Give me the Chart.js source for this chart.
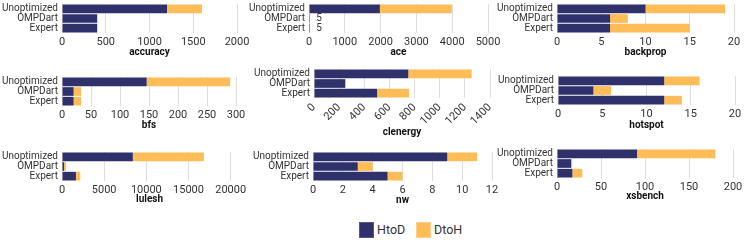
<!DOCTYPE html>
<html>
<head>
<meta charset="utf-8">
<script src="https://cdn.jsdelivr.net/npm/chart.js@4.4.0/dist/chart.umd.min.js"></script>
<style>
  html, body { margin: 0; padding: 0; background: #fff; }
  #wrap { position: relative; width: 747px; height: 240px; overflow: hidden; font-family: Roboto, sans-serif; }
  #wrap canvas { position: absolute; }
  .swatch { position: absolute; top: 222px; width: 13px; height: 14px; }
  .legtext { position: absolute; top: 221px; font-size: 12.5px; line-height: 17px; color: #333; }
</style>
</head>
<body>
<div id="wrap">
  <div class="swatch" style="left:359px;background:#2f316b;border:1px solid #55578a"></div>
  <span class="legtext" style="left:377px">HtoD</span>
  <div class="swatch" style="left:416px;background:#ffbc57;border:1px solid #ffd08a"></div>
  <span class="legtext" style="left:434px">DtoH</span>
</div>
<script>
// categories and benchmarks
const categories = ['Unoptimized', 'OMPDart', 'Expert'];
const benchmarks = ['accuracy', 'ace', 'backprop', 'bfs', 'clenergy', 'hotspot', 'lulesh', 'nw', 'xsbench'];

// transfer counts per benchmark: [Unoptimized, OMPDart, Expert]
const accuracyHtoD = [1200, 400, 400];
const accuracyDtoH = [400, 8, 8];
const aceHtoD = [1980, 3, 3];
const aceDtoH = [2010, 2, 2];
const backpropHtoD = [10, 6, 6];
const backpropDtoH = [9, 2, 9];
const bfsHtoD = [146, 20, 20];
const bfsDtoH = [144, 13, 13];
const clenergyHtoD = [750, 248, 502];
const clenergyDtoH = [504, 5, 254];
const hotspotHtoD = [12, 4, 12];
const hotspotDtoH = [4, 2, 2];
const luleshHtoD = [8400, 240, 1650];
const luleshDtoH = [8430, 230, 510];
const nwHtoD = [9, 3, 5];
const nwDtoH = [2, 1, 1];
const xsbenchHtoD = [91, 16, 17.5];
const xsbenchDtoH = [89, 1.2, 11.3];

const htodSeries = [accuracyHtoD, aceHtoD, backpropHtoD, bfsHtoD, clenergyHtoD, hotspotHtoD, luleshHtoD, nwHtoD, xsbenchHtoD];
const dtohSeries = [accuracyDtoH, aceDtoH, backpropDtoH, bfsDtoH, clenergyDtoH, hotspotDtoH, luleshDtoH, nwDtoH, xsbenchDtoH];

// x axis ticks
const axisMax = [2000, 5000, 20, 300, 1400, 20, 20750, 12, 200];
const tickStep = [500, 1000, 5, 50, 200, 5, 5000, 2, 50];

const HTOD_COLOR = '#2f316b';
const DTOH_COLOR = '#ffbc57';
const Y_AXIS_W = 62;
const PAD_TOP = 12;
const PAD_RIGHT = 26;

// plot boxes: left, right, top, bottom, title offset below plot
const boxes = [
  [62, 237, 4, 33, 19],
  [309, 488, 4, 33, 19],
  [557, 734, 4, 33, 19],
  [62, 236, 77, 106, 19],
  [314, 490, 69, 98, 34],
  [558, 735, 76, 105, 20],
  [62, 237, 152, 181, 18],
  [313, 492, 152, 181, 19],
  [557, 733, 149, 178, 18]
];

// tiny stacks get their total written next to them
const smallTotals = {
  id: 'smallTotals',
  afterDatasetsDraw(chart) {
    const ctx = chart.ctx;
    const meta = chart.getDatasetMeta(1);
    ctx.save();
    ctx.font = '10px Roboto, sans-serif';
    ctx.fillStyle = '#333';
    ctx.textBaseline = 'middle';
    meta.data.forEach((bar, i) => {
      if (bar.x - chart.chartArea.left < 2) {
        const total = chart.data.datasets.reduce((s, d) => s + d.data[i], 0);
        ctx.fillText(String(total), bar.x + 7, bar.y);
      }
    });
    ctx.restore();
  }
};

const wrap = document.getElementById('wrap');

benchmarks.forEach((name, k) => {
  const [L, R, T, B, titleOff] = boxes[k];
  const titleLH = 12;
  const axisH = titleOff + titleLH / 2;
  const w = Y_AXIS_W + (R - L) + PAD_RIGHT;
  const h = PAD_TOP + (B - T) + axisH;

  const canvas = document.createElement('canvas');
  canvas.width = w;
  canvas.height = h;
  canvas.style.left = (L - Y_AXIS_W) + 'px';
  canvas.style.top = (T - PAD_TOP) + 'px';
  canvas.style.width = w + 'px';
  canvas.style.height = h + 'px';
  wrap.appendChild(canvas);

  const rotate = name === 'clenergy' ? 45 : 0;
  const tickValues = [];
  for (let v = 0; v <= axisMax[k]; v += tickStep[k]) tickValues.push(v);

  new Chart(canvas, {
    type: 'bar',
    data: {
      labels: categories,
      datasets: [{
        label: 'HtoD',
        data: htodSeries[k],
        backgroundColor: HTOD_COLOR
      }, {
        label: 'DtoH',
        data: dtohSeries[k],
        backgroundColor: DTOH_COLOR
      }]
    },
    options: {
      indexAxis: 'y',
      responsive: false,
      animation: false,
      devicePixelRatio: 1,
      layout: { padding: { top: PAD_TOP, right: PAD_RIGHT, bottom: 0, left: 0 } },
      datasets: { bar: { barPercentage: 0.9, categoryPercentage: 1.0, borderWidth: 0 } },
      plugins: {
        legend: { display: false },
        tooltip: { enabled: false }
      },
      scales: {
        y: {
          stacked: true,
          grid: { display: false, drawTicks: false },
          border: { display: false },
          ticks: { color: '#333', padding: 4, autoSkip: false, font: { family: 'Roboto', size: 10 } },
          afterFit: (scale) => { scale.width = Y_AXIS_W; }
        },
        x: {
          stacked: true,
          min: 0,
          max: axisMax[k],
          grid: { color: '#dedede', drawTicks: false },
          border: { display: false },
          afterBuildTicks: (scale) => { scale.ticks = tickValues.map(v => ({ value: v })); },
          ticks: {
            color: '#333',
            padding: 3,
            minRotation: rotate,
            maxRotation: rotate,
            font: { family: 'Roboto', size: 11 },
            callback: (v) => String(v)
          },
          title: {
            display: true,
            text: name,
            color: '#111',
            padding: 0,
            font: { family: 'Roboto', size: 10, weight: 'bold', lineHeight: 1.2 }
          },
          afterFit: (scale) => { scale.height = axisH; }
        }
      }
    },
    plugins: [smallTotals]
  });
});
</script>
</body>
</html>
